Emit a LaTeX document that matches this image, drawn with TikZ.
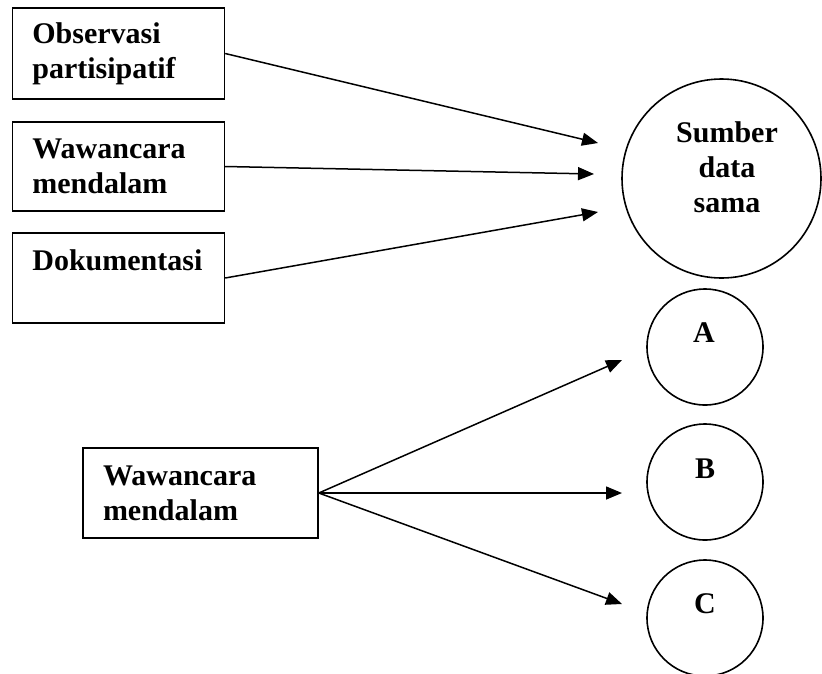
\documentclass[tikz,border=0pt]{standalone}
\usepackage{fontspec}
\setmainfont{Liberation Serif}
\usetikzlibrary{arrows.meta}
\begin{document}
\begin{tikzpicture}[x=1pt,y=-1pt,
  every node/.style={font=\fontsize{30}{35}\selectfont\bfseries},
  box/.style={draw, line width=1.6pt, rectangle, inner xsep=20pt, inner ysep=0pt, align=left},
  ring/.style={draw, circle, line width=1.6pt, inner sep=0pt},
  lbl/.style={inner sep=0pt},
  conn/.style={line width=1.5pt, -{Triangle[length=16pt,width=13pt]}}]
\useasboundingbox (0,0) rectangle (822,673);
% boxes
\node[box, minimum width=212pt, text width=172pt, minimum height=91pt] (obs) at (118.4,53.5) {Observasi\\partisipatif};
\node[box, minimum width=212pt, text width=172pt, minimum height=89pt] (waw) at (118.4,166.5) {Wawancara\\mendalam};
\node[box, minimum width=212pt, text width=172pt, minimum height=90pt] (dok) at (118.4,278) {Dokumentasi\\\phantom{D}};
\node[box, minimum width=235pt, text width=195pt, minimum height=90pt] (waw2) at (200.5,493) {Wawancara\\mendalam};
% circles
\node[ring, minimum size=199pt] (sum) at (721.5,178.5) {};
\node[lbl, anchor=north, align=center] (sumt) at (727,121) {Sumber\\data\\sama};
\node[ring, minimum size=116pt] (ca) at (705,347) {};
\node[lbl, anchor=base] (la) at (704,342) {A};
\node[ring, minimum size=116pt] (cb) at (705,482) {};
\node[lbl, anchor=base] (lb) at (705,478) {B};
\node[ring, minimum size=116pt] (cc) at (705,618) {};
\node[lbl, anchor=base] (lc) at (705,613) {C};
% arrow ends
\coordinate (t1) at (598,143);
\coordinate (t2) at (594,174);
\coordinate (t3) at (598,212);
\coordinate (ta) at (622,360);
\coordinate (tb) at (622,493);
\coordinate (tc) at (622,604);
% connectors
\draw[conn] (obs.east) -- (t1);
\draw[conn] (waw.east) -- (t2);
\draw[conn] (dok.east) -- (t3);
\draw[conn] (waw2.east) -- (ta);
\draw[conn] (waw2.east) -- (tb);
\draw[conn] (waw2.east) -- (tc);
\end{tikzpicture}
\end{document}
